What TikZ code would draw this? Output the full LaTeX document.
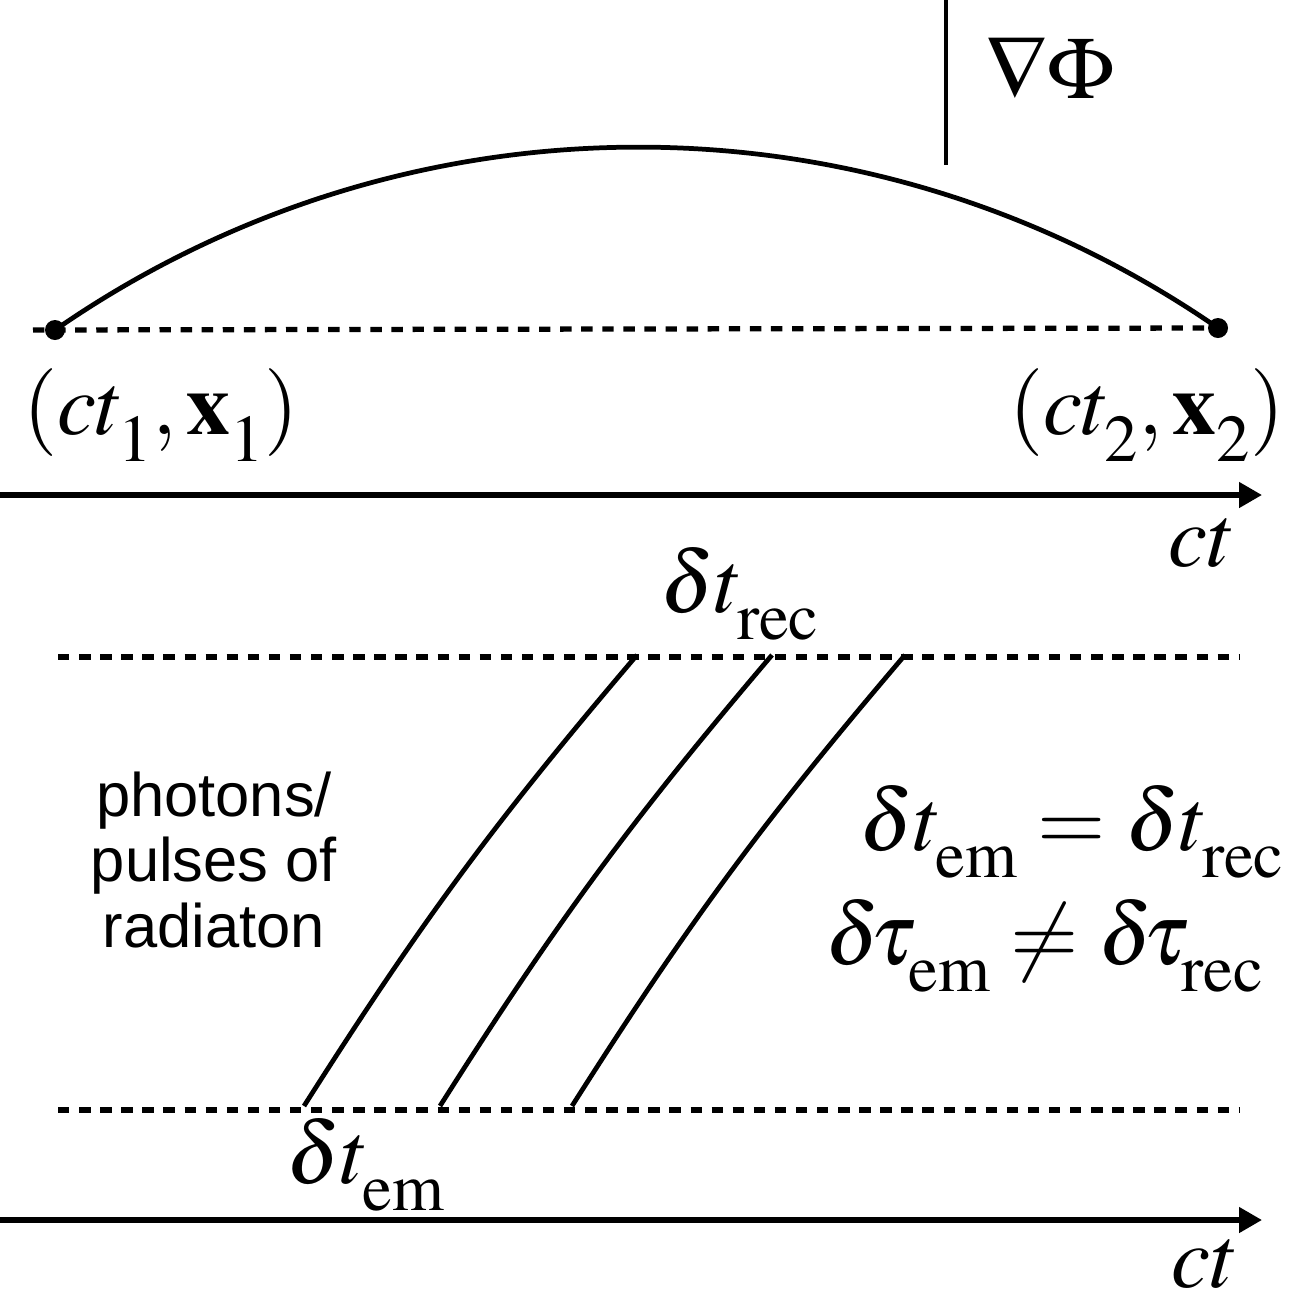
\documentclass[tikz,border=0pt]{standalone}
\usepackage{mathptmx}
\usepackage[no-math]{fontspec}
\setsansfont{Liberation Sans}
\usepackage{tikz}
\usetikzlibrary{arrows.meta, positioning, calc}

\DeclareMathSizes{50}{50}{38}{30}
% lowered subscript, as in the drawing
\newcommand{\lsub}[1]{_{\raisebox{-8pt}{$\scriptstyle #1$}}}

\begin{document}
\begin{tikzpicture}[
    x=0.02cm, y=-0.02cm,
    >={Triangle[length=13pt, width=14pt]},
    axis/.style={->, line width=3pt},
    dashline/.style={line width=3pt, dash pattern=on 6.5pt off 5.5pt},
    worldline/.style={line width=2.7pt},
    mathlbl/.style={inner sep=0pt, font=\fontsize{50}{60}\selectfont},
    textlbl/.style={inner sep=0pt, align=center, font=\sffamily\fontsize{35}{37}\selectfont},
]
\useasboundingbox (0,0) rectangle (1293,1296);

% === UPPER PANEL: path between two events ===
\coordinate (ev1) at (55,330);
\coordinate (ev2) at (1218,328);
\coordinate (gradtop) at (946,0);
\coordinate (gradbot) at (946,165);

\draw[worldline] (gradtop) -- (gradbot);
\node[mathlbl] (grad) at (1050,68) {$\nabla\Phi$};

\draw[worldline] (ev1) .. controls (405,87) and (868,86) .. (ev2);
\draw[dashline] (33,330) coordinate (dashL) -- (ev2);
\fill (ev1) circle (10);
\fill (ev2) circle (10);

\node[mathlbl] (ev1lbl) at (161,415) {$(ct\lsub{1},\mathbf{x}\lsub{1})$};
\node[mathlbl] (ev2lbl) at (1147,415) {$(ct\lsub{2},\mathbf{x}\lsub{2})$};

% time axis
\coordinate (axAs) at (0,495);
\coordinate (axAe) at (1262,495);
\draw[axis] (axAs) -- (axAe);
\node[mathlbl] (ctA) at (1202,543) {$ct$};

% === LOWER PANEL: pulses of radiation ===
\coordinate (recL) at (58,657);
\coordinate (recR) at (1240,657);
\coordinate (emL) at (58,1110);
\coordinate (emR) at (1240,1110);
\draw[dashline] (recL) -- (recR);
\draw[dashline] (emL) -- (emR);

\node[mathlbl] (dtrec) at (740,594) {$\delta t\lsub{\mathrm{rec}}$};
\node[mathlbl] (dtem) at (366,1165) {$\delta t\lsub{\mathrm{em}}$};

% photon world lines
\foreach \xe/\xr [count=\i] in {304/637, 440/772, 572/905}{
    \coordinate (e\i) at (\xe,1106);
    \coordinate (r\i) at (\xr,655);
    \draw[worldline] (e\i) to[bend left=4] (r\i);
}

\node[textlbl] (photons) at (214,860) {photons/\\pulses of\\radiaton};

\node[mathlbl] (eqt) at (1072,832) {$\delta t\lsub{\mathrm{em}} = \delta t\lsub{\mathrm{rec}}$};
\node[mathlbl] (eqtau) at (1045,946) {$\delta\!\tau\lsub{\mathrm{em}} \neq \delta\!\tau\lsub{\mathrm{rec}}$};

% time axis
\coordinate (axBs) at (0,1220);
\coordinate (axBe) at (1262,1220);
\draw[axis] (axBs) -- (axBe);
\node[mathlbl] (ctB) at (1205,1264) {$ct$};

\end{tikzpicture}
\end{document}
